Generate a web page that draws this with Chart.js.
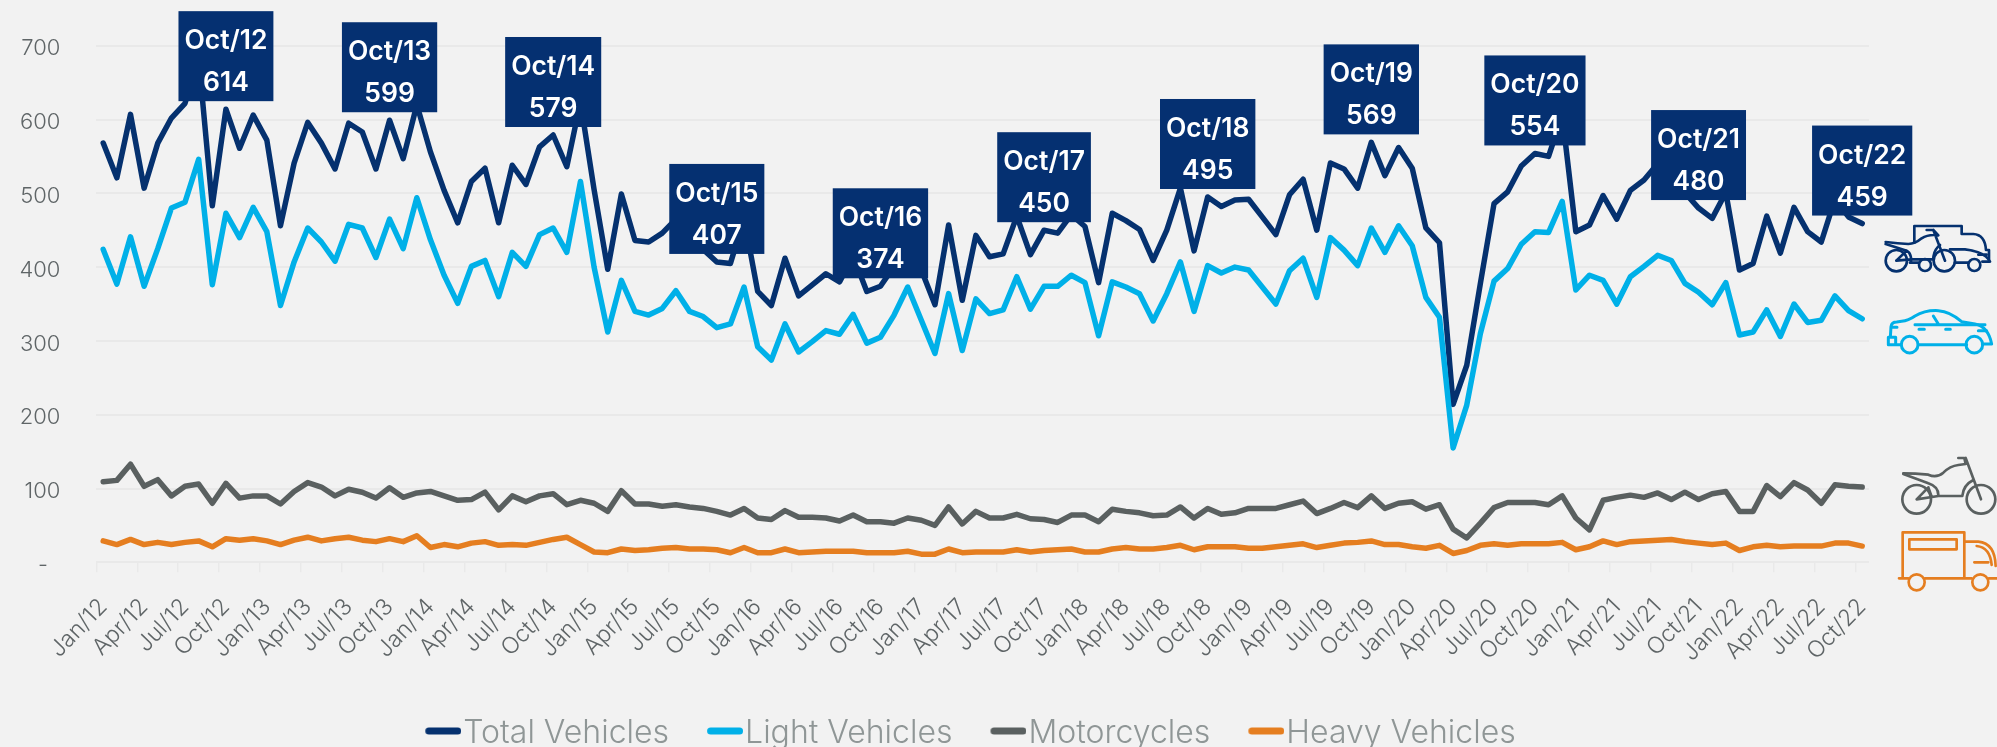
<!DOCTYPE html>
<html>
<head>
<meta charset="utf-8">
<style>
html,body{margin:0;padding:0;background:#f2f2f2;width:1997px;height:747px;overflow:hidden;position:relative}
canvas{display:block}
svg{position:absolute;left:0;top:0;pointer-events:none}
</style>
<script src="https://cdn.jsdelivr.net/npm/chart.js@4/dist/chart.umd.min.js"></script>
</head>
<body>
<canvas id="c" width="1997" height="747"></canvas>
<svg width="1997" height="747" viewBox="0 0 1997 747" fill="none" stroke-linecap="round" stroke-linejoin="round" stroke-width="8">
  <g transform="translate(1875 220) scale(.3333)" stroke="#05316f">
    <path d="M118 68V18H260V42H295Q330 44 333 90H342V125H322"/>
    <path d="M32 66Q70 70 100 72Q120 72 140 55Q160 42 190 46L175 30H155M175 30L210 122"/>
    <path d="M32 72L95 92Q110 100 108 125M64 122L95 92M64 122L108 118H175Q175 90 195 75"/>
    <path d="M225 88H270Q330 95 345 125M105 128H130M240 128H280M310 104H335"/>
    <circle cx="64" cy="122" r="32"/><circle cx="208" cy="122" r="32"/>
    <circle cx="150" cy="135" r="18"/><circle cx="298" cy="135" r="18"/>
  </g>
  <g transform="translate(1875 220) scale(.3333)" stroke="#00b0e8" stroke-width="9">
    <path d="M78 374H40V352H62V374M46 352L48 320Q50 306 65 306L80 304Q100 302 120 288Q150 270 190 272Q225 274 260 305L300 312Q340 320 350 372H322M130 374H275"/>
    <path d="M120 314H330M175 288L190 312M132 328H148M212 328H226M52 322H66M310 332H335"/>
    <circle cx="104" cy="374" r="25"/><circle cx="298" cy="374" r="25"/>
  </g>
  <g transform="translate(1875 450) scale(.3333)" stroke="#5a6060" stroke-width="8">
    <path d="M85 70Q120 70 160 74Q185 85 205 68Q225 48 250 45L272 42L268 24H250M272 24L318 148"/>
    <path d="M85 72L160 100Q190 110 190 135M125 148L160 112L170 140M125 148L190 138H262Q265 105 295 90"/>
    <circle cx="125" cy="148" r="43"/><circle cx="318" cy="148" r="43"/>
  </g>
  <g transform="translate(1875 450) scale(.3333)" stroke="#e57e20" stroke-width="8">
    <path d="M83 385V247H268V385M72 385H100M150 385H290M342 385H366"/>
    <rect x="103" y="268" width="142" height="30"/>
    <path d="M270 275H310Q360 280 362 348M305 288Q345 292 350 345M298 337H340"/>
    <circle cx="125" cy="397" r="24"/><circle cx="316" cy="397" r="24"/>
  </g>
</svg>
<script>
const years = ['12','13','14','15','16','17','18','19','20','21','22'];
const months = ['Jan','Feb','Mar','Apr','May','Jun','Jul','Aug','Sep','Oct','Nov','Dec'];
const categories = [];
years.forEach(y => months.forEach(m => categories.push(m + '/' + y)));
categories.length = 130;

const totalVehicles = [568,521,607,507,568,602,622,683,483,614,561,606,572,456,541,596,568,533,595,583,533,599,547,620,556,504,460,516,534,460,538,512,563,579,536,624,505,397,499,436,434,446,465,433,424,407,405,466,367,348,412,361,376,391,380,415,367,374,401,448,396,349,457,355,443,414,418,469,417,450,446,471,455,379,473,463,451,409,450,507,422,495,482,491,492,468,444,498,519,450,541,533,507,569,524,562,534,453,433,214,267,378,486,502,537,554,550,606,448,457,497,465,504,518,540,525,501,480,466,501,396,405,469,419,481,448,434,492,468,459];
const lightVehicles = [424,377,441,374,425,480,488,546,376,473,440,481,448,348,407,453,434,408,458,453,413,465,425,494,437,389,351,401,409,360,420,401,444,453,420,516,400,312,382,340,335,344,368,340,333,318,323,373,292,274,323,285,299,314,309,336,297,305,335,373,328,283,364,287,357,337,342,387,343,374,374,389,379,307,380,373,364,327,364,407,340,402,392,400,396,373,350,395,412,359,440,423,402,453,420,456,429,359,332,155,213,310,381,398,431,448,447,489,369,389,382,350,387,401,416,409,378,366,349,379,308,312,342,306,350,325,328,361,341,330];
const motorcycles = [109,111,133,103,112,90,103,106,80,107,87,90,90,79,96,108,102,90,99,95,87,101,88,94,96,90,84,85,95,71,90,82,90,93,78,84,80,69,97,79,79,76,78,75,73,69,64,73,60,58,70,61,61,60,56,64,55,55,53,60,57,50,75,52,69,60,60,65,59,58,54,64,64,55,72,69,67,63,64,75,60,73,65,67,73,73,73,78,83,66,73,81,74,90,73,80,82,72,78,45,33,53,74,81,81,81,78,90,60,44,84,88,91,88,94,85,95,85,93,96,69,69,104,89,108,98,80,105,103,102];
const heavyVehicles = [29,24,31,24,27,24,27,29,21,32,30,32,29,24,30,34,29,32,34,30,28,32,28,36,20,24,21,26,28,23,24,23,27,31,34,24,14,13,18,16,17,19,20,18,18,17,13,20,13,13,18,13,14,15,15,15,13,13,13,15,11,11,18,13,14,14,14,17,14,16,17,18,14,14,18,20,18,18,20,23,17,21,21,21,19,19,21,23,25,20,23,26,27,29,24,24,21,19,23,12,16,23,25,23,25,25,25,27,17,21,29,24,28,29,30,31,28,26,24,26,16,21,23,21,22,22,22,26,26,22];

const seriesNames = ['Total Vehicles','Light Vehicles','Motorcycles','Heavy Vehicles'];
const seriesValues = [totalVehicles, lightVehicles, motorcycles, heavyVehicles];
const seriesColors = ['#05316f','#00b0e8','#5a6060','#e57e20'];
const calloutIndexes = [9,21,33,45,57,69,81,93,105,117,129];

const FONT = 'Inter, Lato, sans-serif';
const GRID = '#e9e9e9';

function swatch(color){
  const s = document.createElement('canvas');
  s.width = 52; s.height = 12;
  const g = s.getContext('2d');
  g.fillStyle = color;
  g.beginPath();
  g.roundRect(16, 0.5, 36, 7, 3.5);
  g.fill();
  return s;
}

const callouts = {
  id: 'callouts',
  afterLayout(chart){ chart.scales.y.left = 0; },
  afterDatasetsDraw(chart){
    const {ctx, scales:{x, y}} = chart;
    const data = chart.data.datasets[0].data;
    ctx.save();
    ctx.font = '600 26.5px ' + FONT;
    ctx.textAlign = 'center';
    ctx.textBaseline = 'middle';
    calloutIndexes.forEach(i => {
      const px = x.getPixelForValue(i);
      const py = y.getPixelForValue(data[i]);
      const title = chart.data.labels[i];
      const w = ctx.measureText(title).width + 12;
      const bottom = py - 8, top = bottom - 90;
      ctx.fillStyle = '#053071';
      ctx.fillRect(px - w/2, top, w, 90);
      ctx.fillStyle = '#ffffff';
      ctx.fillText(title, px, top + 30);
      ctx.fillText(String(data[i]), px, top + 72);
    });
    ctx.restore();
  }
};

new Chart(document.getElementById('c'), {
  type: 'line',
  plugins: [callouts],
  data: {
    labels: categories,
    datasets: seriesNames.map((name, k) => ({
      label: name,
      data: seriesValues[k],
      borderColor: seriesColors[k],
      backgroundColor: seriesColors[k],
      borderWidth: 5.5,
      borderCapStyle: 'round',
      borderJoinStyle: 'round',
      pointRadius: 0,
      tension: 0,
      fill: false,
      order: 4 - k
    }))
  },
  options: {
    responsive: false,
    animation: false,
    layout: { autoPadding: false, padding: { left: 70, right: 128, top: 45.7, bottom: -12 } },
    plugins: {
      tooltip: { enabled: false },
      legend: {
        position: 'bottom',
        labels: {
          usePointStyle: true,
          pointStyleWidth: 24,
          padding: 36,
          font: { family: FONT, size: 32, weight: '300' },
          generateLabels: chart => chart.data.datasets.map((d, i) => ({
            text: d.label,
            datasetIndex: i,
            fontColor: '#8f9696',
            pointStyle: swatch(d.borderColor),
            lineWidth: 0,
            hidden: false
          }))
        }
      }
    },
    scales: {
      x: {
        offset: true,
        afterFit: s => { s.height = 118.7; },
        border: { display: false },
        grid: {
          offset: true,
          drawOnChartArea: false,
          tickLength: 10,
          lineWidth: 1.5,
          tickColor: c => (c.index % 3 === 0 ? GRID : 'rgba(0,0,0,0)')
        },
        ticks: {
          autoSkip: false,
          minRotation: 46,
          maxRotation: 46,
          padding: 21,
          color: '#5f6567',
          font: { family: FONT, size: 23, weight: '300' },
          callback(v, i){ return i % 3 === 0 ? this.getLabelForValue(v) : ''; }
        }
      },
      y: {
        min: 0,
        max: 700,
        afterFit: s => { s.width = 26.4; },
        border: { display: false },
        grid: { color: GRID, lineWidth: 2, drawTicks: false },
        ticks: {
          stepSize: 100,
          padding: 36,
          color: '#5f6567',
          font: { family: FONT, size: 22, weight: '300', lineHeight: '6px' },
          callback: v => ['', v === 0 ? '-  ' : String(v)]
        }
      }
    }
  }
});
</script>
</body>
</html>
